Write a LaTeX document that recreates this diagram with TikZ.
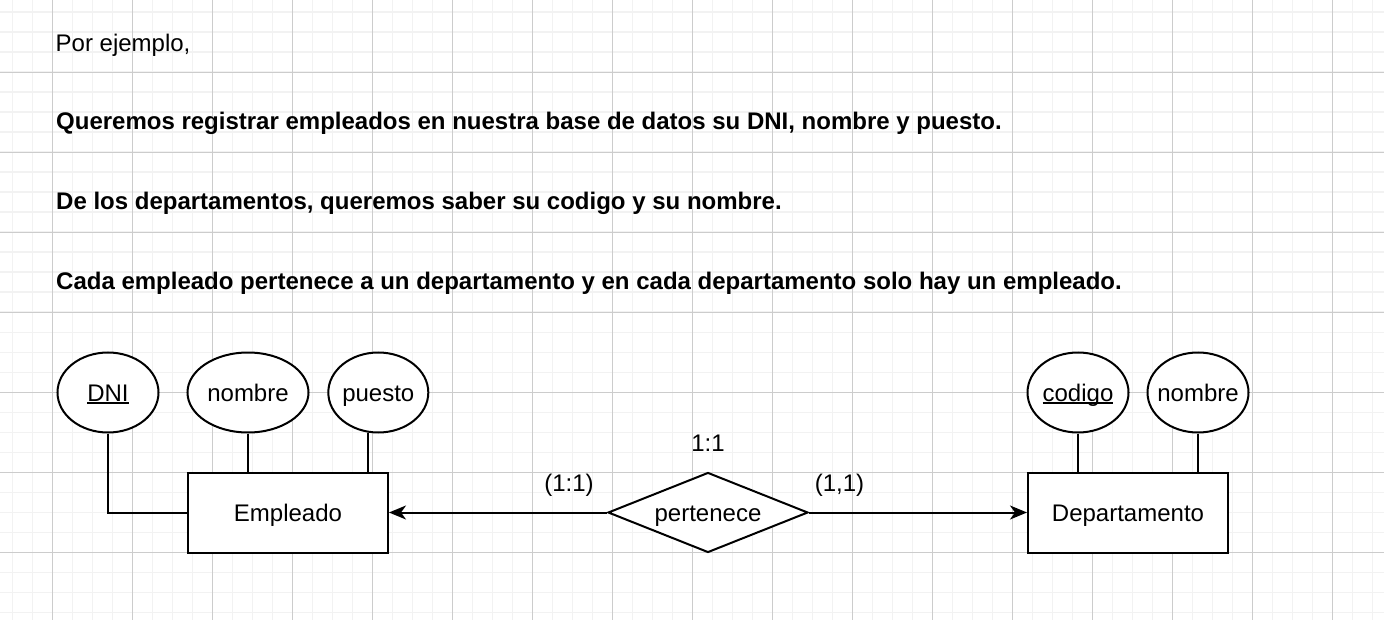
\documentclass[tikz,border=0pt]{standalone}
\usepackage{fontspec}
\setmainfont{Liberation Sans}
\usetikzlibrary{shapes.geometric,arrows.meta,calc}
\newcommand\keyul[1]{\setbox0\hbox{#1}\rlap{\rule[-2.6pt]{\wd0}{1.8pt}}\box0}
\newcommand\zw[1]{\makebox[0pt]{#1}}
\tikzset{
  txt/.style={inner sep=0pt, anchor=base west, font=\fontsize{24}{28}\selectfont},
  btxt/.style={txt, font=\fontsize{24}{28}\selectfont\bfseries},
  lbl/.style={inner sep=0pt, anchor=base, font=\fontsize{24}{28}\selectfont},
  shp/.style={draw=black, line width=2pt, fill=white, inner sep=0pt,
    text height=17.2pt, text depth=0pt, font=\fontsize{24}{28}\selectfont},
  attr/.style={shp, ellipse, minimum height=80pt},
  ent/.style={shp, rectangle, minimum width=200pt, minimum height=80pt},
  rel/.style={shp, diamond, shape aspect=2.5, minimum width=200pt, minimum height=80pt},
  conn/.style={line width=2pt, draw=black},
  arr/.style={conn, -{Stealth[length=17pt,width=14pt,inset=5pt]}},
  minorgrid/.style={draw=gray!10, line width=1.6pt},
  majorgrid/.style={draw=gray!40, line width=1pt}
}
\begin{document}
\begin{tikzpicture}[x=1pt,y=-1pt]
\useasboundingbox (0,0) rectangle (1384,620);
\fill[white] (0,0) rectangle (1384,620);
% grid
\foreach \k in {0,...,68} \draw[minorgrid] (12.4+20*\k,0) -- (12.4+20*\k,620);
\foreach \k in {0,...,30} \draw[minorgrid] (0,12.3+20*\k) -- (1384,12.3+20*\k);
\foreach \k in {0,...,16} \draw[majorgrid] (52.4+80*\k,0) -- (52.4+80*\k,620);
\foreach \k in {0,...,6} \draw[majorgrid] (0,72.3+80*\k) -- (1384,72.3+80*\k);
% texts
\node[txt] (t1) at (55.5,51.6) {Por ejemplo,};
\node[btxt] (t2) at (56,130) {Queremos registrar empleados en nuestra base de datos su DNI, nombre y puesto.};
\node[btxt] (t3) at (56,210) {De los departamentos, queremos saber su codigo y su nombre.};
\node[btxt] (t4) at (56,290) {Cada empleado pertenece a un departamento y en cada departamento solo hay un empleado.};
% shapes
\node[attr, minimum width=101pt] (dni) at (108,392.5) {\zw{\keyul{DNI}}};
\node[attr, minimum width=121pt] (nom1) at (248,392.5) {\zw{nombre}};
\node[attr, minimum width=100pt] (pue) at (378.3,392.5) {\zw{puesto}};
\node[ent] (emp) at (288,512.5) {Empleado};
\node[rel] (dia) at (708,512.5) {pertenece};
\node[ent] (dep) at (1128,512.5) {Departamento};
\node[attr, minimum width=101pt] (cod) at (1078,392.5) {\zw{\keyul{codigo}}};
\node[attr, minimum width=101pt] (nom2) at (1198,392.5) {\zw{nombre}};
% connectors
\draw[conn] (dni.south) |- (emp.west);
\draw[conn] (nom1.south) -- (nom1.south |- emp.north);
\draw[conn] (pue.255.7) |- ($(emp.north)+(60,1.2)$);
\draw[conn] (cod.south) -- (cod.south |- dep.north);
\draw[conn] (nom2.south) -- (nom2.south |- dep.north);
\draw[arr] (dia.west) -- (emp.east);
\draw[arr] (dia.east) -- (dep.west);
% labels
\node[lbl] (c1) at (569,491) {(1:1)};
\node[lbl] (c0) at (708,451) {1:1};
\node[lbl] (c2) at (839.5,491) {(1,1)};
\end{tikzpicture}
\end{document}
